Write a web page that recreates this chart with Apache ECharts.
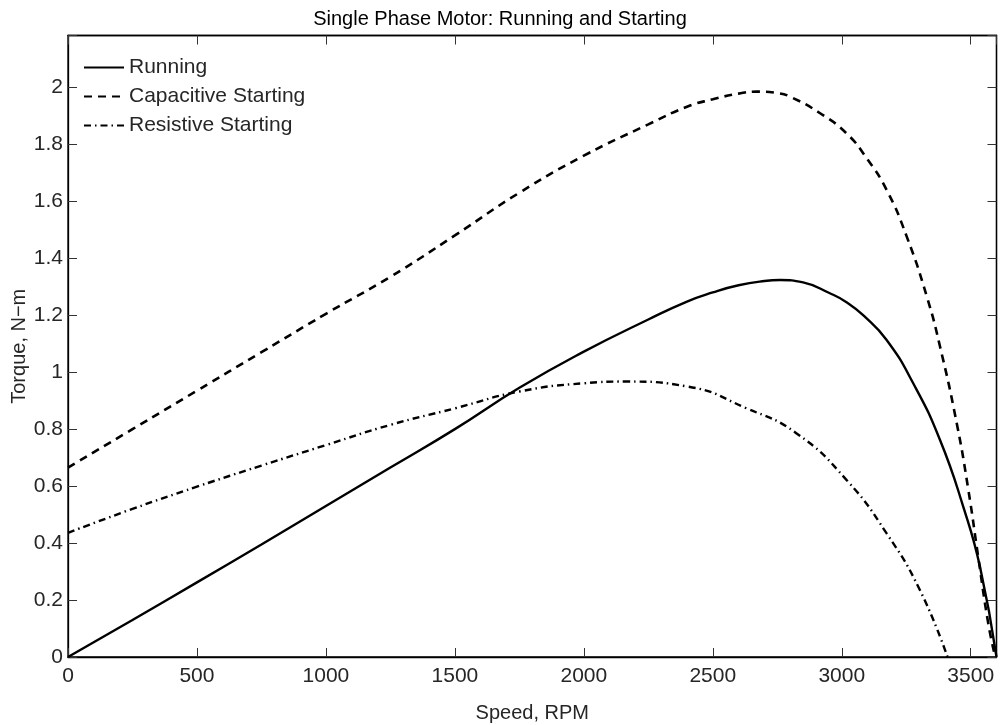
<!DOCTYPE html>
<html>
<head>
<meta charset="utf-8">
<script src="https://cdn.jsdelivr.net/npm/echarts@6/dist/echarts.min.js"></script>
<style>html,body{margin:0;padding:0;background:#fff}#c{width:1000px;height:725px}</style>
</head>
<body>
<div id="c"></div>
<script>
const titleText = 'Single Phase Motor: Running and Starting';
const xLabel = 'Speed, RPM';
const yLabel = 'Torque, N\u2212m';
const seriesNames = ['Running', 'Capacitive Starting', 'Resistive Starting'];

const runSpeed = [0, 250, 500, 750, 1000, 1250, 1500, 1750, 2000, 2250, 2400, 2500, 2600, 2700, 2761, 2850, 2954, 3020, 3084, 3174, 3277, 3381, 3471, 3536, 3600];
const runTorque = [0, 0.13, 0.262, 0.395, 0.53, 0.665, 0.80, 0.945, 1.072, 1.185, 1.248, 1.28, 1.305, 1.32, 1.3235, 1.315, 1.277, 1.245, 1.199, 1.113, 0.961, 0.762, 0.528, 0.317, 0];

const capSpeed = [0, 250, 500, 750, 1000, 1250, 1500, 1750, 2000, 2250, 2400, 2500, 2600, 2670, 2750, 2800, 2916, 3019, 3097, 3174, 3252, 3330, 3381, 3446, 3491, 3529, 3568, 3595];
const capTorque = [0.665, 0.80, 0.935, 1.07, 1.205, 1.335, 1.48, 1.63, 1.76, 1.87, 1.932, 1.958, 1.978, 1.985, 1.98, 1.967, 1.909, 1.838, 1.751, 1.64, 1.476, 1.265, 1.09, 0.82, 0.586, 0.352, 0.118, 0];

const resSpeed = [0, 250, 500, 750, 1000, 1250, 1500, 1750, 2000, 2166, 2400, 2631, 2825, 3019, 3174, 3303, 3410];
const resTorque = [0.436, 0.52, 0.598, 0.672, 0.744, 0.815, 0.873, 0.932, 0.961, 0.967, 0.95, 0.873, 0.785, 0.621, 0.434, 0.235, 0];

const xTickStep = 500;
const yTickStep = 0.2;

const pairs = (xs, ys) => xs.map((x, i) => [x, ys[i]]);
const FONT = 'Liberation Sans, Arial, Helvetica, sans-serif';
const TXT = '#262626';

const chart = echarts.init(document.getElementById('c'), null, {renderer: 'canvas'});
const xFmt = v => (Math.abs(v / xTickStep - Math.round(v / xTickStep)) < 1e-6 ? String(v) : '');
const yFmt = v => (Math.abs(v / yTickStep - Math.round(v / yTickStep)) < 1e-6 && v <= 2.0001 ? String(Math.round(v * 10) / 10) : '');

const axisLineStyle = {color: '#000', width: 1.3};
const tickStyle = {show: true, inside: true, length: 9, lineStyle: {color: '#333', width: 1}};
chart.setOption({
  animation: false,
  backgroundColor: '#fff',
  title: {
    text: titleText, left: 'center', top: 4,
    textStyle: {fontFamily: FONT, fontSize: 20, fontWeight: 'normal', color: '#000'}
  },
  legend: {
    orient: 'vertical', left: 83, top: 56.5, padding: 0,
    itemWidth: 40, itemHeight: 14, itemGap: 7,
    data: seriesNames,
    itemStyle: {opacity: 0},
    textStyle: {fontFamily: FONT, fontSize: 21, color: TXT, lineHeight: 22}
  },
  grid: {left: 68, right: 3.5, top: 35.5, bottom: 68, containLabel: false, outerBoundsMode: 'none',
    show: true, borderColor: '#000', borderWidth: 1.3},
  xAxis: [{
    type: 'value', position: 'bottom', min: 0, max: 3600, interval: xTickStep,
    name: xLabel, nameLocation: 'middle', nameGap: 46, nameMoveOverlap: false,
    nameTextStyle: {fontFamily: FONT, fontSize: 20, color: TXT},
    axisLine: {show: true, onZero: false, lineStyle: axisLineStyle},
    axisTick: tickStyle,
    axisLabel: {formatter: xFmt, fontFamily: FONT, fontSize: 21, color: TXT, margin: 9, showMaxLabel: false},
    splitLine: {show: false}
  }, {
    type: 'value', position: 'top', min: 0, max: 3600, interval: xTickStep,
    axisLine: {show: true, onZero: false, lineStyle: axisLineStyle},
    axisTick: tickStyle,
    axisLabel: {show: false}, splitLine: {show: false}
  }],
  yAxis: [{
    type: 'value', position: 'left', min: 0, max: 2.182, interval: yTickStep,
    name: yLabel, nameLocation: 'middle', nameGap: 39, nameMoveOverlap: false,
    nameTextStyle: {fontFamily: FONT, fontSize: 20, color: TXT},
    axisLine: {show: true, onZero: false, lineStyle: axisLineStyle},
    axisTick: tickStyle,
    axisLabel: {formatter: yFmt, fontFamily: FONT, fontSize: 21, color: TXT, margin: 5},
    splitLine: {show: false}
  }, {
    type: 'value', position: 'right', min: 0, max: 2.182, interval: yTickStep,
    axisLine: {show: true, onZero: false, lineStyle: axisLineStyle},
    axisTick: tickStyle,
    axisLabel: {show: false}, splitLine: {show: false}
  }],
  series: [{
    name: seriesNames[0], type: 'line', data: pairs(runSpeed, runTorque),
    showSymbol: false, symbol: 'none', smooth: 0.5, clip: true,
    lineStyle: {color: '#000', width: 2.4, type: 'solid'}, itemStyle: {color: '#000'}
  }, {
    name: seriesNames[1], type: 'line', data: pairs(capSpeed, capTorque),
    showSymbol: false, symbol: 'none', smooth: 0.5, clip: true,
    lineStyle: {color: '#000', width: 2.6, type: [8, 6]}, itemStyle: {color: '#000'}
  }, {
    name: seriesNames[2], type: 'line', data: pairs(resSpeed, resTorque),
    showSymbol: false, symbol: 'none', smooth: 0.5, clip: true,
    lineStyle: {color: '#000', width: 2.4, type: [7, 4, 1.5, 4]}, itemStyle: {color: '#000'}
  }]
});
</script>
</body>
</html>
